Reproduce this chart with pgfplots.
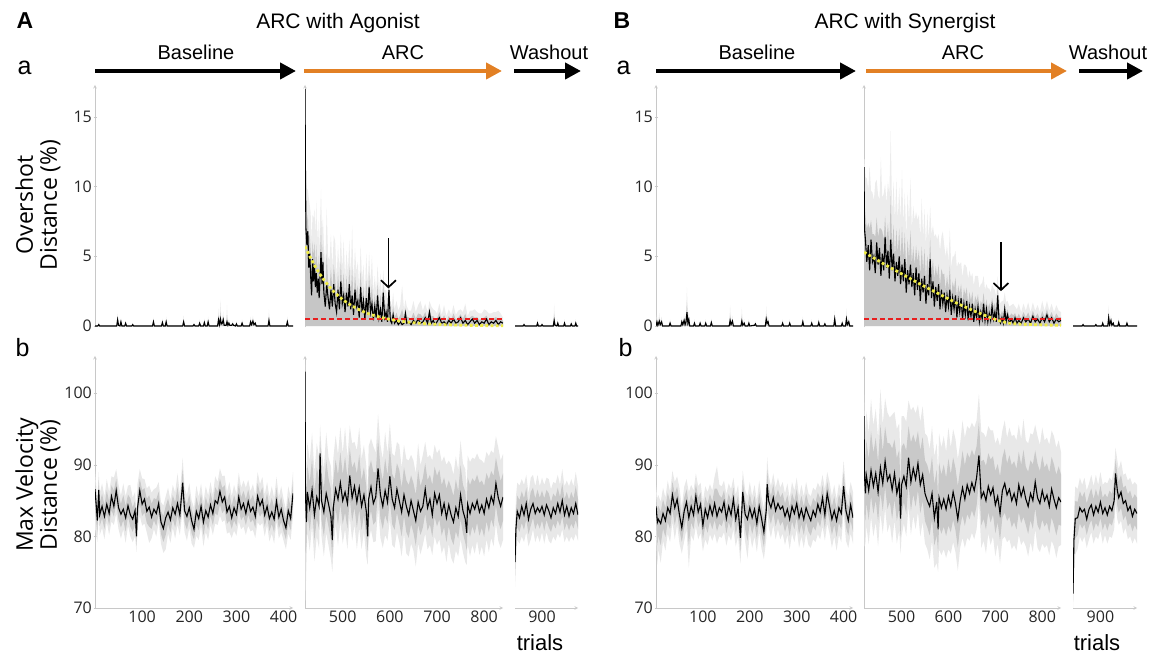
\documentclass[border=0pt]{standalone}
\usepackage{pgfplots}
\pgfplotsset{compat=1.18}
\usepackage{pgfplotstable}
\usepgfplotslibrary{fillbetween}
\usetikzlibrary{arrows.meta}
\usepackage{fontspec}
\setmainfont{Liberation Sans}
\newfontfamily\tickfamily{Open Sans}
\definecolor{arcorange}{RGB}{226,128,36}
\definecolor{fityellow}{RGB}{240,236,70}
\definecolor{fitred}{RGB}{232,30,30}
\definecolor{axgray}{RGB}{200,200,200}

% ---------- Row a (overshot): x m s ----------
\pgfplotstableread[row sep=\\]{x m s\\
0 0 0.05\\ 6 0 0.05\\ 8 0.1 0.2\\ 10 0 0.05\\ 46 0 0.05\\ 48 0.45 0.5\\ 50 0.05 0.1\\ 53 0 0.05\\ 55 0.3 0.3\\ 57 0 0.05\\
63 0 0.05\\ 65 0.2 0.2\\ 67 0 0.05\\ 78 0 0.05\\ 80 0.1 0.1\\ 82 0 0.05\\ 122 0 0.05\\ 124 0.3 0.3\\ 126 0 0.05\\
141 0 0.05\\ 143 0.25 0.3\\ 145 0 0.05\\ 149 0 0.05\\ 151 0.3 0.4\\ 153 0 0.05\\ 186 0 0.05\\ 188 0.3 0.5\\ 190 0 0.05\\
208 0 0.05\\ 210 0.1 0.1\\ 212 0 0.05\\ 220 0 0.05\\ 222 0.2 0.3\\ 224 0 0.05\\ 230 0 0.05\\ 232 0.25 0.3\\ 234 0 0.05\\
238 0 0.05\\ 240 0.3 0.4\\ 242 0 0.05\\ 260 0 0.05\\ 262 0.45 0.8\\ 264 0.1 0.2\\ 266 0.5 1.4\\ 268 0.15 0.3\\ 270 0.2 0.4\\
272 0.45 0.6\\ 274 0.05 0.1\\ 278 0.05 0.1\\ 280 0.3 1.2\\ 282 0.05 0.1\\ 284 0.2 0.3\\ 286 0.05 0.1\\ 290 0.05 0.1\\
292 0.15 0.2\\ 294 0.05 0.1\\ 298 0 0.05\\ 300 0.15 0.2\\ 302 0 0.05\\ 310 0 0.05\\ 312 0.2 0.3\\ 314 0 0.05\\ 328 0 0.05\\
330 0.3 0.4\\ 332 0.1 0.1\\ 335 0.35 0.4\\ 337 0.1 0.1\\ 340 0.2 0.2\\ 342 0 0.05\\ 367 0 0.05\\ 369 0.4 0.8\\ 371 0 0.05\\
406 0 0.05\\ 408 0.3 0.4\\ 410 0 0.05\\ 420 0 0.05\\
}\AAbase

\pgfplotstableread[row sep=\\]{x m s\\
420 17.0 0.3\\ 421 10.8 2\\ 422 7.0 3.5\\ 424 5.8 4.0\\ 426 6.8 3.0\\ 428 4.2 5.0\\ 430 5.2 3.5\\ 432 3.6 4.5\\
434 2.2 4.0\\ 436 4.8 3.2\\ 438 3.2 4.5\\ 440 4.4 4.0\\ 442 2.8 3.8\\ 444 3.8 5.2\\ 446 2.4 3.6\\ 448 3.4 4.2\\
450 2.0 3.5\\ 452 3.6 4.0\\ 454 5.3 4.5\\ 456 3.0 3.8\\ 458 4.6 3.2\\ 460 2.4 3.5\\ 463 1.4 3.0\\ 466 3.0 5.5\\
469 2.0 3.0\\ 472 1.2 3.5\\ 475 2.6 4.0\\ 478 1.4 2.8\\ 481 3.0 3.5\\ 484 1.6 4.5\\ 487 1.0 2.5\\ 490 2.6 3.2\\
493 1.2 2.8\\ 496 3.2 3.5\\ 499 1.6 2.5\\ 502 2.2 4.0\\ 505 1.0 2.5\\ 508 2.4 3.0\\ 511 1.4 2.5\\ 514 3.0 3.2\\
517 1.2 2.4\\ 520 2.2 5.0\\ 523 0.8 2.4\\ 526 2.6 3.0\\ 529 1.4 2.5\\ 532 1.8 2.8\\ 535 0.6 2.2\\ 538 2.8 3.0\\
541 1.0 2.4\\ 544 1.8 2.6\\ 547 0.5 2.0\\ 550 2.0 3.2\\ 553 0.8 2.2\\ 556 2.8 2.5\\ 559 1.0 2.0\\ 562 1.6 3.5\\
565 0.4 2.0\\ 568 1.4 2.2\\ 571 0.6 1.8\\ 574 2.2 2.2\\ 577 0.6 1.8\\ 580 1.2 2.6\\ 583 0.3 1.8\\ 586 2.4 1.6\\
589 0.6 2.0\\ 592 1.0 1.6\\ 595 0.3 1.4\\ 598 2.6 1.2\\ 601 0.4 1.4\\ 604 0.2 1.2\\ 607 0.8 1.6\\ 610 0.2 1.0\\
614 0.4 1.4\\ 618 0.1 1.0\\ 622 0.3 1.2\\ 626 0.1 2.8\\ 630 0.2 1.0\\ 633 0.9 1.0\\ 636 0.2 1.2\\ 640 0.3 0.8\\
645 0.1 1.0\\ 650 0.4 1.4\\ 655 0.2 0.8\\ 660 0.5 1.0\\ 665 0.2 1.6\\ 670 0.3 0.8\\ 675 0.6 1.0\\ 680 0.2 0.8\\
684 1.0 0.8\\ 688 0.2 1.2\\ 692 0.4 0.8\\ 696 0.1 1.0\\ 700 0.3 0.6\\ 705 0.6 1.0\\ 710 0.2 0.6\\ 715 0.3 1.2\\
720 0.1 0.6\\ 725 0.4 0.8\\ 730 0.2 0.6\\ 735 0.5 1.0\\ 740 0.2 0.6\\ 745 0.3 0.8\\ 750 0.6 0.6\\ 755 0.2 0.8\\
760 0.4 1.2\\ 765 0.1 0.6\\ 770 0.3 0.8\\ 775 0.5 0.6\\ 780 0.2 1.0\\ 785 0.4 0.6\\ 790 0.1 0.8\\ 795 0.3 0.6\\
800 0.2 1.0\\ 805 0.5 0.6\\ 810 0.1 0.8\\ 815 0.3 0.6\\ 820 0.2 0.8\\ 825 0.4 0.6\\ 830 0.1 1.0\\ 835 0.3 0.6\\ 840 0.2 0.4\\
}\AAarc

\pgfplotstableread[row sep=\\]{x m s\\
840 0 0.05\\ 858 0 0.05\\ 860 0.1 0.1\\ 862 0 0.05\\ 888 0 0.05\\ 890 0.2 0.3\\ 892 0 0.05\\ 898 0 0.05\\ 900 0.1 0.1\\
902 0 0.05\\ 925 0 0.05\\ 927 0.4 1.2\\ 929 0.05 0.1\\ 933 0 0.05\\ 935 0.2 0.3\\ 937 0 0.05\\ 948 0 0.05\\ 950 0.2 0.3\\
952 0 0.05\\ 963 0 0.05\\ 965 0.15 0.2\\ 967 0 0.05\\ 973 0 0.05\\ 975 0.2 0.3\\ 977 0 0.05\\ 980 0 0.05\\
}\AAwash

\pgfplotstableread[row sep=\\]{x m s\\
0 0 0.05\\ 2 0.3 0.5\\ 4 0.05 0.1\\ 7 0.35 0.6\\ 9 0.1 0.2\\ 12 0.3 0.4\\ 14 0 0.05\\ 28 0 0.05\\ 30 0.2 0.3\\ 32 0 0.05\\
53 0 0.05\\ 55 0.3 0.4\\ 57 0.1 0.1\\ 60 0.4 0.5\\ 62 0.1 0.2\\ 64 0.3 0.6\\ 66 1.0 1.8\\ 68 0.2 0.3\\ 70 0.45 0.6\\ 72 0 0.05\\
80 0 0.05\\ 82 0.2 0.3\\ 84 0 0.05\\ 92 0 0.05\\ 94 0.2 0.2\\ 96 0 0.05\\ 104 0 0.05\\ 106 0.2 0.3\\ 108 0 0.05\\
116 0 0.05\\ 118 0.25 0.3\\ 120 0 0.05\\ 156 0 0.05\\ 158 0.4 1.1\\ 160 0.1 0.1\\ 163 0.35 0.4\\ 165 0 0.05\\
181 0 0.05\\ 183 0.35 1.0\\ 185 0.05 0.1\\ 188 0.2 0.3\\ 190 0 0.05\\ 196 0 0.05\\ 198 0.2 0.3\\ 200 0 0.05\\
210 0.05 0.1\\ 212 0.15 0.2\\ 214 0 0.05\\ 233 0 0.05\\ 235 0.5 0.9\\ 237 0.2 0.3\\ 239 0.3 0.4\\ 241 0 0.05\\
268 0 0.05\\ 270 0.2 0.3\\ 272 0 0.05\\ 283 0 0.05\\ 285 0.2 0.3\\ 287 0 0.05\\ 311 0 0.05\\ 313 0.3 0.4\\ 315 0 0.05\\
330 0 0.05\\ 332 0.2 0.3\\ 334 0 0.05\\ 345 0 0.05\\ 347 0.25 0.3\\ 349 0 0.05\\ 358 0 0.05\\ 360 0.15 0.2\\ 362 0 0.05\\
379 0 0.05\\ 381 0.5 0.6\\ 383 0 0.05\\ 395 0 0.05\\ 397 0.2 0.2\\ 399 0 0.05\\ 404 0 0.05\\ 406 0.5 0.8\\ 408 0.1 0.1\\
411 0.3 0.3\\ 413 0 0.05\\ 420 0 0.05\\
}\BAbase

\pgfplotstableread[row sep=\\]{x m s\\
420 11.4 0.5\\ 421 7.0 5.0\\ 423 6.2 4.5\\ 426 4.6 6.0\\ 429 5.8 4.0\\ 432 4.0 7.5\\ 435 6.2 3.5\\ 438 4.6 5.0\\
441 5.0 4.0\\ 444 3.8 6.5\\ 447 6.0 4.5\\ 450 4.4 5.0\\ 453 5.6 3.5\\ 456 3.6 8.5\\ 459 5.2 4.0\\ 462 4.0 5.5\\
465 6.4 3.8\\ 468 4.2 4.6\\ 471 5.4 5.0\\ 474 3.4 6.0\\ 477 6.2 7.8\\ 480 4.0 4.0\\ 483 5.2 5.2\\ 486 3.2 4.4\\
489 4.6 6.0\\ 492 3.6 4.0\\ 495 5.0 5.0\\ 498 3.0 4.6\\ 501 4.4 6.8\\ 504 3.2 4.2\\ 507 4.8 4.8\\ 510 2.4 4.0\\
513 4.0 5.6\\ 516 3.0 4.4\\ 519 4.4 6.2\\ 522 2.8 4.2\\ 525 3.8 4.8\\ 528 2.2 5.4\\ 531 4.2 4.0\\ 534 2.6 5.0\\
537 3.8 4.2\\ 540 1.8 4.6\\ 543 3.4 5.8\\ 546 2.4 4.0\\ 549 3.6 4.8\\ 552 1.6 4.2\\ 555 3.0 5.2\\ 558 2.2 4.0\\
561 4.8 3.8\\ 564 2.0 4.6\\ 567 3.2 4.0\\ 570 1.4 5.0\\ 573 2.8 3.8\\ 576 1.8 4.4\\ 579 3.0 3.6\\ 582 1.2 4.2\\
585 2.6 3.8\\ 588 1.6 5.2\\ 591 2.4 3.4\\ 594 1.0 4.0\\ 597 2.2 3.6\\ 600 1.4 3.2\\ 603 2.6 4.4\\ 606 0.8 3.4\\
609 2.0 3.0\\ 612 1.2 3.8\\ 615 2.2 3.2\\ 618 0.6 3.6\\ 621 1.8 2.8\\ 624 1.0 3.4\\ 627 2.0 2.6\\ 630 0.5 3.0\\
633 1.6 2.8\\ 636 0.8 3.6\\ 639 1.8 2.4\\ 642 0.4 3.0\\ 645 1.4 2.6\\ 648 0.7 2.8\\ 651 1.6 2.2\\ 654 0.3 2.6\\
657 1.2 2.4\\ 660 0.6 3.0\\ 663 1.4 2.2\\ 666 0.3 2.4\\ 669 1.0 2.0\\ 672 0.5 2.6\\ 675 1.6 2.0\\ 678 0.4 2.2\\
681 1.2 1.8\\ 684 0.3 2.4\\ 687 0.9 1.8\\ 690 0.4 2.0\\ 693 1.4 1.6\\ 696 0.5 2.2\\ 699 1.0 1.6\\ 702 0.3 1.8\\
705 2.2 1.4\\ 708 0.4 1.6\\ 711 0.2 1.4\\ 714 0.6 1.2\\ 717 0.2 1.6\\ 720 1.2 1.2\\ 723 0.3 1.4\\ 726 0.8 1.0\\
730 0.2 1.2\\ 734 0.5 1.0\\ 738 0.2 1.4\\ 742 0.6 0.8\\ 746 0.2 1.0\\ 750 0.4 1.2\\ 755 0.2 0.8\\ 760 0.6 1.0\\
765 0.3 0.8\\ 770 0.5 1.2\\ 775 0.2 0.8\\ 780 0.7 1.0\\ 785 0.3 0.8\\ 790 0.5 1.0\\ 795 0.2 0.8\\ 800 0.6 1.2\\
805 0.3 0.8\\ 810 0.8 1.0\\ 815 0.3 0.8\\ 820 0.6 1.0\\ 825 0.2 0.8\\ 830 0.5 1.0\\ 835 0.3 0.8\\ 840 0.4 0.6\\
}\BAarc

\pgfplotstableread[row sep=\\]{x m s\\
840 0 0.05\\ 860 0 0.05\\ 862 0.1 0.1\\ 864 0 0.05\\ 888 0 0.05\\ 890 0.1 0.1\\ 892 0 0.05\\ 903 0 0.05\\ 905 0.2 0.2\\
907 0 0.05\\ 916 0 0.05\\ 918 0.6 0.9\\ 920 0.1 0.1\\ 923 0.4 0.4\\ 925 0.05 0.1\\ 928 0.2 0.2\\ 930 0 0.05\\
938 0 0.05\\ 940 0.25 0.3\\ 942 0 0.05\\ 956 0 0.05\\ 958 0.2 0.2\\ 960 0 0.05\\ 980 0 0.05\\
}\BAwash

% ---------- Row b (max velocity): x m u d ----------
\pgfplotstableread[row sep=\\]{x m u d\\
0 86.6 2.5 5.5\\ 5 82.2 3.0 3.0\\ 8 86.5 2.5 3.5\\ 10 83.0 3.0 2.8\\ 15 84.2 3.2 3.0\\ 20 82.8 2.8 3.2\\ 25 84.5 3.5 2.5\\
30 83.2 3.0 3.0\\ 35 85.6 2.8 3.5\\ 40 84.2 4.0 2.6\\ 45 86.4 3.0 3.2\\ 50 84.0 3.2 3.0\\ 55 83.1 2.6 3.4\\ 60 83.8 3.6 2.8\\
65 82.6 3.0 3.5\\ 70 84.3 2.8 2.8\\ 75 83.0 4.2 3.0\\ 80 82.4 3.0 3.2\\ 85 83.6 2.6 3.6\\ 88 80.0 3.0 2.2\\ 90 83.9 3.4 3.0\\
95 86.4 3.0 3.5\\ 100 84.5 3.6 3.0\\ 105 85.2 2.8 3.4\\ 110 83.5 3.2 3.0\\ 115 84.1 3.0 5.0\\ 120 82.7 3.4 3.0\\
125 83.8 2.8 2.8\\ 130 83.2 3.6 3.2\\ 135 84.6 3.0 2.6\\ 140 82.0 2.8 3.0\\ 145 81.1 3.2 3.4\\ 150 82.6 3.0 4.4\\
155 83.4 3.4 3.0\\ 160 82.3 2.8 3.2\\ 165 84.0 3.2 2.8\\ 170 83.1 3.0 3.4\\ 175 84.6 4.2 3.0\\ 180 83.0 3.0 2.8\\
186 87.5 3.5 3.6\\ 190 83.6 3.2 3.0\\ 195 82.8 3.0 3.4\\ 200 84.0 3.4 2.8\\ 205 82.2 2.8 3.2\\ 210 81.0 3.0 2.6\\
215 83.5 3.6 3.4\\ 220 82.5 3.0 3.0\\ 225 84.2 3.2 2.8\\ 230 82.0 2.8 3.4\\ 235 83.6 3.4 3.0\\ 240 82.7 3.0 3.2\\
245 84.4 3.2 2.8\\ 250 83.2 2.6 3.0\\ 255 85.0 3.4 3.2\\ 260 84.6 3.0 3.0\\ 265 86.3 3.2 3.4\\ 270 84.8 3.6 2.8\\
275 85.5 3.0 3.2\\ 280 83.4 2.8 3.0\\ 285 84.2 3.4 3.6\\ 290 82.6 3.0 2.8\\ 295 84.0 3.2 3.2\\ 300 83.1 2.8 3.0\\
305 85.5 3.4 3.4\\ 310 83.8 3.0 2.8\\ 315 84.6 3.2 3.2\\ 320 83.2 3.6 3.0\\ 325 84.9 3.0 3.4\\ 330 83.5 2.8 2.8\\
335 84.1 3.2 3.2\\ 340 82.8 3.0 3.0\\ 345 85.6 3.4 3.6\\ 350 84.3 3.0 2.8\\ 355 85.1 3.2 3.2\\ 360 83.0 2.8 3.0\\
365 84.2 3.4 2.6\\ 370 82.5 3.0 3.2\\ 375 83.4 3.6 3.0\\ 380 82.4 3.0 3.4\\ 385 84.9 3.4 2.8\\ 390 82.7 2.8 3.0\\
395 83.8 3.2 3.2\\ 400 82.2 3.0 2.8\\ 405 81.2 2.6 3.0\\ 410 83.6 3.4 3.2\\ 415 82.5 3.0 3.0\\ 420 86.0 3.0 3.2\\
}\ABbase

\pgfplotstableread[row sep=\\]{x m u d\\
420 103.0 1.0 3.0\\ 421 86.0 6.0 15.0\\ 423 82.0 7.0 6.0\\ 425 86.2 7.0 5.5\\ 430 84.0 6.5 6.0\\ 435 86.5 8.0 5.0\\
440 83.0 6.0 6.5\\ 445 85.5 7.5 5.5\\ 450 84.2 6.8 6.0\\ 452 91.6 4.0 6.0\\ 455 85.0 7.2 5.0\\ 460 83.4 6.0 6.2\\
465 86.0 8.5 5.5\\ 470 84.5 6.5 5.8\\ 475 82.8 7.0 6.0\\ 478 79.5 7.0 4.5\\ 480 84.0 6.8 6.2\\ 485 86.6 7.5 5.0\\
490 85.2 6.2 6.5\\ 495 87.5 7.8 5.5\\ 500 85.0 6.6 6.0\\ 505 86.2 9.0 5.2\\ 510 84.6 6.4 6.4\\ 515 88.5 7.0 5.8\\
520 85.4 7.6 6.0\\ 525 87.0 6.2 5.4\\ 530 84.8 7.2 6.6\\ 535 86.8 8.4 5.6\\ 540 84.2 6.6 6.0\\ 545 85.8 7.0 5.2\\
550 83.5 6.4 6.4\\ 553 80.0 6.0 4.0\\ 555 85.2 7.4 5.8\\ 560 86.9 6.8 6.0\\ 565 84.6 8.0 5.4\\ 570 85.5 6.2 6.2\\
575 89.5 7.6 5.6\\ 580 85.8 7.0 6.0\\ 585 84.2 6.6 5.8\\ 590 86.4 8.2 6.2\\ 595 84.8 6.8 5.4\\ 600 88.4 7.4 6.0\\
605 85.2 6.4 6.4\\ 610 84.0 7.2 5.6\\ 615 86.6 6.6 6.0\\ 620 85.0 7.8 5.8\\ 625 83.4 6.2 6.2\\ 630 85.8 7.0 5.4\\
635 84.2 6.6 6.6\\ 640 83.0 7.6 5.8\\ 645 85.0 6.4 6.0\\ 650 83.6 7.0 5.6\\ 655 82.2 6.6 6.4\\ 660 84.8 8.2 5.8\\
665 83.5 6.4 6.0\\ 670 84.2 7.2 5.4\\ 675 86.6 6.6 6.2\\ 680 84.0 7.0 5.8\\ 685 85.2 6.2 6.4\\ 690 83.0 7.6 5.6\\
695 86.0 6.8 6.0\\ 700 84.6 7.0 5.8\\ 705 85.8 6.4 6.2\\ 710 83.2 7.2 5.6\\ 715 84.6 6.6 6.0\\ 720 82.6 7.4 6.2\\
725 84.4 6.2 5.4\\ 730 83.0 7.0 6.0\\ 735 82.0 6.6 5.8\\ 740 84.0 7.2 6.0\\ 745 82.8 6.4 5.6\\ 750 85.8 7.6 6.2\\
755 83.6 6.6 5.8\\ 760 82.4 7.0 6.0\\ 763 80.5 6.0 4.5\\ 765 84.5 6.8 5.6\\ 770 83.2 7.2 6.0\\ 775 84.6 6.4 5.8\\
780 83.8 7.0 6.2\\ 785 85.0 6.6 5.6\\ 790 83.4 7.4 6.0\\ 795 84.4 6.2 5.8\\ 800 83.2 7.0 6.0\\ 805 85.2 6.6 5.6\\
810 84.0 7.2 6.2\\ 815 85.6 6.4 5.8\\ 820 84.6 7.0 6.0\\ 825 87.4 6.6 5.6\\ 830 85.4 7.0 6.0\\ 835 84.2 6.4 5.8\\
840 85.5 6.0 6.0\\
}\ABarc

\pgfplotstableread[row sep=\\]{x m u d\\
840 76.4 3.0 3.5\\ 842 81.0 4.5 5.0\\ 845 83.5 4.0 4.0\\ 850 82.6 4.5 3.6\\ 855 84.2 3.8 4.2\\ 860 83.0 4.2 3.8\\
865 84.6 4.0 4.0\\ 870 82.4 3.6 3.8\\ 875 83.8 4.4 4.2\\ 880 84.6 4.0 3.6\\ 885 83.2 3.8 4.0\\ 890 84.0 4.6 3.8\\
895 83.4 3.6 4.2\\ 900 84.2 4.0 3.6\\ 905 83.0 4.2 4.0\\ 910 84.4 3.8 3.8\\ 915 83.6 4.4 4.2\\ 920 82.6 4.0 3.6\\
925 84.0 3.6 4.0\\ 930 83.2 4.2 3.8\\ 935 84.6 4.0 4.2\\ 940 83.4 3.8 3.6\\ 945 85.0 4.4 4.0\\ 950 83.0 4.0 3.8\\
955 84.2 3.6 4.2\\ 960 82.8 4.2 3.6\\ 965 84.0 4.0 4.0\\ 970 83.2 3.8 3.8\\ 975 84.6 4.4 4.2\\ 980 83.0 4.0 3.6\\
}\ABwash

\pgfplotstableread[row sep=\\]{x m u d\\
0 84.2 3.0 4.0\\ 3 82.0 3.2 6.0\\ 5 82.4 3.4 4.2\\ 10 81.8 3.0 5.5\\ 15 83.2 3.6 3.8\\ 20 82.2 3.2 4.2\\ 25 84.0 3.8 3.6\\
30 83.2 3.0 4.0\\ 35 85.8 3.4 3.8\\ 40 84.0 3.6 4.4\\ 45 85.2 3.2 3.6\\ 50 83.0 3.8 4.0\\ 55 81.2 3.0 3.6\\ 60 83.5 3.4 4.2\\
65 84.8 3.2 3.8\\ 70 82.6 3.6 7.0\\ 75 84.2 3.0 4.0\\ 80 83.0 3.4 3.6\\ 85 85.6 3.2 4.2\\ 90 83.4 3.6 3.8\\ 95 84.5 3.0 4.0\\
100 81.5 3.4 3.6\\ 105 83.8 3.2 4.2\\ 110 82.6 3.6 3.8\\ 115 84.3 3.0 4.0\\ 120 83.0 3.4 3.6\\ 125 84.6 3.8 4.2\\
130 82.8 7.0 3.8\\ 135 84.0 3.2 4.0\\ 140 83.4 3.6 3.6\\ 145 84.8 3.0 4.2\\ 150 82.5 3.4 3.8\\ 155 84.2 3.2 4.0\\
160 83.0 3.6 3.6\\ 165 85.2 3.0 4.2\\ 170 82.4 3.4 3.8\\ 175 84.0 3.2 4.0\\ 180 79.8 3.6 3.6\\ 185 86.2 3.0 4.2\\
190 83.1 3.4 3.8\\ 195 82.4 3.2 5.5\\ 200 84.0 3.6 3.6\\ 205 82.6 3.0 4.2\\ 210 83.8 3.4 3.8\\ 215 81.8 3.2 4.0\\
220 84.2 3.6 3.6\\ 225 82.5 3.0 4.2\\ 230 80.6 3.4 3.8\\ 235 83.6 3.2 4.0\\ 237 87.3 3.8 3.6\\ 240 85.0 3.6 3.6\\
245 84.0 3.0 4.2\\ 250 85.4 3.4 3.8\\ 255 83.6 3.2 4.0\\ 260 84.6 3.6 3.6\\ 265 83.8 3.0 4.2\\ 270 84.2 3.4 3.8\\
275 82.8 3.2 4.0\\ 280 83.8 3.6 3.6\\ 285 82.4 3.0 4.2\\ 290 84.2 3.4 3.8\\ 295 83.2 3.2 4.0\\ 300 84.6 3.6 3.6\\
305 82.6 3.0 4.2\\ 310 83.8 3.4 3.8\\ 315 82.4 3.2 4.0\\ 320 84.0 3.6 3.6\\ 325 83.0 3.0 4.2\\ 330 82.2 3.4 3.8\\
335 83.6 3.2 4.0\\ 340 82.8 3.6 3.6\\ 345 84.5 3.0 4.2\\ 350 83.4 3.4 3.8\\ 355 85.4 3.2 4.0\\ 360 83.0 3.6 3.6\\
365 86.0 3.0 4.2\\ 370 84.2 3.4 3.8\\ 375 82.4 3.2 4.0\\ 380 83.6 3.6 3.6\\ 385 82.2 3.0 4.2\\ 390 84.0 3.4 3.8\\
395 83.2 3.2 4.0\\ 400 87.0 3.6 3.6\\ 405 83.6 3.0 4.2\\ 410 82.2 3.4 3.8\\ 415 84.4 3.2 4.0\\ 420 82.6 3.6 3.6\\
}\BBbase

\pgfplotstableread[row sep=\\]{x m u d\\
420 96.8 3.0 8.0\\ 421 88.6 9.0 10.0\\ 423 86.0 8.0 7.0\\ 425 88.5 9.0 7.0\\ 430 86.4 8.0 7.5\\ 435 89.2 10.0 6.5\\
440 87.0 8.5 7.0\\ 445 88.8 9.0 6.8\\ 450 86.2 7.5 7.6\\ 455 89.6 11.0 6.4\\ 460 87.4 8.2 7.0\\ 465 90.5 8.8 6.6\\
470 87.8 9.5 7.2\\ 475 88.6 8.0 6.8\\ 480 86.5 10.5 7.4\\ 485 88.8 8.6 6.6\\ 490 86.0 9.0 7.0\\ 495 87.6 8.2 6.8\\
498 82.5 8.0 5.0\\ 500 87.2 9.6 7.2\\ 505 88.4 8.4 6.6\\ 510 87.0 9.0 7.0\\ 515 91.0 8.0 6.8\\ 520 87.6 10.0 7.4\\
525 89.5 8.6 6.6\\ 530 88.0 9.2 7.0\\ 535 90.2 8.2 6.8\\ 540 87.2 8.8 7.2\\ 545 88.6 9.6 6.6\\ 550 86.0 8.4 7.0\\
555 85.0 9.0 6.8\\ 560 84.2 8.0 7.4\\ 565 86.0 9.4 6.6\\ 570 82.6 8.6 7.0\\ 575 84.8 8.2 8.5\\ 578 81.0 8.0 6.0\\
580 85.4 9.0 7.2\\ 585 84.0 8.4 6.6\\ 590 85.2 8.8 7.0\\ 595 83.8 8.0 6.8\\ 600 85.6 9.6 7.4\\ 605 84.2 8.2 6.6\\
610 86.2 8.8 7.0\\ 615 84.6 9.0 6.8\\ 620 82.4 8.4 7.2\\ 625 85.0 8.0 6.6\\ 630 86.8 9.4 7.0\\ 635 85.2 8.6 6.8\\
640 87.2 8.2 7.4\\ 645 86.0 9.0 6.6\\ 650 87.5 8.4 7.0\\ 655 86.4 8.8 6.8\\ 660 88.2 8.0 7.2\\ 665 91.3 8.6 6.6\\
670 85.4 9.2 7.0\\ 675 86.2 8.2 6.8\\ 680 85.0 8.8 7.4\\ 685 87.0 8.4 6.6\\ 690 85.8 9.0 7.0\\ 695 86.8 8.0 6.8\\
700 84.4 8.6 7.2\\ 705 85.6 8.2 6.6\\ 710 83.2 9.4 7.0\\ 715 86.4 8.4 6.8\\ 720 87.4 8.8 7.4\\ 725 85.8 8.0 6.6\\
730 86.6 8.6 7.0\\ 735 85.0 9.0 6.8\\ 740 86.0 8.2 7.2\\ 745 84.6 8.8 6.6\\ 750 87.2 8.4 7.0\\ 755 85.6 8.0 6.8\\
760 86.8 9.6 7.4\\ 765 85.2 8.2 6.6\\ 770 84.2 8.8 7.0\\ 775 86.0 8.4 6.8\\ 780 85.0 9.2 7.2\\ 785 87.6 8.0 6.6\\
790 85.4 8.6 7.0\\ 795 84.6 8.2 6.8\\ 800 86.4 8.8 7.4\\ 805 85.0 8.4 6.6\\ 810 85.8 8.0 7.0\\ 815 84.2 8.6 6.8\\
820 86.6 8.2 7.2\\ 825 85.2 8.8 6.6\\ 830 84.0 8.4 7.0\\ 835 85.4 8.0 6.8\\ 840 84.8 7.0 6.0\\
}\BBarc

\pgfplotstableread[row sep=\\]{x m u d\\
840 72.0 2.0 2.0\\ 842 79.5 4.0 5.0\\ 845 82.5 4.5 5.0\\ 850 82.6 4.0 4.4\\ 855 84.0 4.2 4.0\\ 860 83.4 3.8 4.2\\
865 83.8 4.4 3.8\\ 870 82.4 4.0 4.0\\ 875 83.8 3.6 4.2\\ 880 84.4 4.2 3.8\\ 885 83.0 4.0 4.0\\ 890 84.2 4.4 4.2\\
895 83.4 3.8 3.8\\ 900 84.8 4.2 4.0\\ 905 83.2 4.0 4.2\\ 910 84.0 3.6 3.8\\ 915 83.0 4.4 4.0\\ 920 84.2 4.0 4.2\\
925 83.6 4.2 3.8\\ 930 85.0 4.6 4.0\\ 933 88.8 3.6 4.2\\ 937 86.4 4.2 4.0\\ 940 85.4 4.0 3.8\\ 945 86.2 4.4 4.0\\
950 84.6 4.0 4.2\\ 955 85.0 3.8 3.8\\ 960 83.6 4.2 4.0\\ 965 84.2 4.0 4.2\\ 970 82.8 4.4 3.8\\ 975 83.8 3.8 4.0\\
980 83.2 4.0 4.2\\
}\BBwash

\newcommand{\banda}[1]{%
\addplot[fill=gray!15, draw=none] table[x=x, y expr=\thisrow{m}+\thisrow{s}] {#1} \closedcycle;
\addplot[fill=gray!45, draw=none] table[x=x, y expr=\thisrow{m}+0.4*\thisrow{s}] {#1} \closedcycle;
\addplot[black, line width=1.1pt] table[x=x, y=m] {#1};}

\newcommand{\bandb}[1]{%
\addplot[name path=U1, draw=none] table[x=x, y expr=\thisrow{m}+\thisrow{u}] {#1};
\addplot[name path=L1, draw=none] table[x=x, y expr=\thisrow{m}-\thisrow{d}] {#1};
\addplot[fill=gray!18, draw=none] fill between[of=U1 and L1];
\addplot[name path=U2, draw=none] table[x=x, y expr=\thisrow{m}+0.55*\thisrow{u}] {#1};
\addplot[name path=L2, draw=none] table[x=x, y expr=\thisrow{m}-0.55*\thisrow{d}] {#1};
\addplot[fill=gray!42, draw=none] fill between[of=U2 and L2];
\addplot[black, line width=1.1pt] table[x=x, y=m] {#1};}

\pgfplotsset{
  base/.style={scale only axis, axis line style={-, axgray, line width=0.6pt},
    tick align=outside, major tick length=3pt, tick style={axgray, line width=0.6pt},
    ticklabel style={font=\tickfamily\fontsize{16}{16}\selectfont, text=black!85, inner sep=1.5pt},
    /pgf/number format/assume math mode=true, xtick style={draw=none}},
  rowa/.style={base, height=242.4pt, ymin=-0.1, ymax=17.3, axis x line=none},
  rowb/.style={base, height=252pt, ymin=70, ymax=105.2, axis x line=bottom},
  seg1/.style={width=198pt, xmin=0, xmax=420},
  seg2/.style={width=198pt, xmin=420, xmax=840},
  seg3/.style={width=63pt, xmin=840, xmax=980},
}

\tikzset{harrow/.style={line width=4.5pt, -{Triangle[length=16pt,width=16pt]}},
  hdr/.style={font=\fontsize{20}{20}\selectfont, anchor=base},
  plotarrow/.style={line width=1.7pt, -{Straight Barb[length=7pt,width=15pt]}}}

\begin{document}
\begin{tikzpicture}

% ===== Panel A =====
\begin{axis}[rowa, seg1, at={(95pt,333.6pt)}, anchor=south west, axis y line=left, ytick={0,5,10,15}]
\banda{\AAbase}
\end{axis}
\begin{axis}[rowa, seg2, at={(305pt,333.6pt)}, anchor=south west, axis y line=left, ytick=\empty]
\banda{\AAarc}
\addplot[color=fitred, line width=2pt, dash pattern=on 5pt off 3pt] coordinates {(420,0.47) (840,0.47)};
\addplot[color=fityellow, line width=2.8pt, dash pattern=on 2.8pt off 2.4pt] coordinates {
(420,5.70) (430,5.0) (441,4.31) (451,3.75) (461,3.27) (471,2.85) (481,2.47) (491,2.15) (501,1.87) (511,1.63)
(521,1.42) (531,1.23) (541,1.07) (551,0.93) (561,0.81) (571,0.71) (581,0.62) (591,0.54) (601,0.47) (621,0.35)
(641,0.27) (661,0.20) (681,0.15) (701,0.12) (721,0.09) (741,0.07) (761,0.05) (781,0.04) (801,0.03) (821,0.02) (840,0.02)};
\draw[plotarrow] (axis cs:597,6.3) -- (axis cs:597,2.7);
\end{axis}
\begin{axis}[rowa, seg3, at={(515pt,333.6pt)}, anchor=south west, axis y line=none]
\banda{\AAwash}
\end{axis}

\begin{axis}[rowb, seg1, at={(95pt,53pt)}, anchor=south west, axis y line=left, ytick={70,80,90,100}, xtick={100,200,300,400}]
\bandb{\ABbase}
\end{axis}
\begin{axis}[rowb, seg2, at={(305pt,53pt)}, anchor=south west, axis y line=left, ytick=\empty, xtick={500,600,700,800}]
\bandb{\ABarc}
\end{axis}
\begin{axis}[rowb, seg3, at={(515pt,53pt)}, anchor=south west, axis y line=none, xtick={900}]
\bandb{\ABwash}
\end{axis}

% ===== Panel B =====
\begin{axis}[rowa, seg1, width=197pt, at={(656pt,333.6pt)}, anchor=south west, axis y line=left, ytick={0,5,10,15}]
\banda{\BAbase}
\end{axis}
\begin{axis}[rowa, seg2, width=197pt, at={(864pt,333.6pt)}, anchor=south west, axis y line=left, ytick=\empty]
\banda{\BAarc}
\addplot[color=fitred, line width=2pt, dash pattern=on 5pt off 3pt] coordinates {(420,0.47) (840,0.47)};
\addplot[color=fityellow, line width=2.8pt, dash pattern=on 2.8pt off 2.4pt] coordinates {
(420,5.3) (440,4.9) (460,4.5) (480,4.12) (500,3.75) (520,3.38) (540,3.0) (560,2.65) (580,2.3) (600,1.95)
(620,1.6) (640,1.3) (660,1.0) (675,0.8) (690,0.6) (700,0.47) (710,0.35) (720,0.27) (730,0.2) (745,0.15)
(760,0.12) (780,0.1) (800,0.08) (820,0.06) (840,0.05)};
\draw[plotarrow] (axis cs:712,6.0) -- (axis cs:712,2.5);
\end{axis}
\begin{axis}[rowa, seg3, width=64pt, at={(1073pt,333.6pt)}, anchor=south west, axis y line=none]
\banda{\BAwash}
\end{axis}

\begin{axis}[rowb, seg1, width=197pt, at={(656pt,53pt)}, anchor=south west, axis y line=left, ytick={70,80,90,100}, xtick={100,200,300,400}]
\bandb{\BBbase}
\end{axis}
\begin{axis}[rowb, seg2, width=197pt, at={(864pt,53pt)}, anchor=south west, axis y line=left, ytick=\empty, xtick={500,600,700,800}]
\bandb{\BBarc}
\end{axis}
\begin{axis}[rowb, seg3, width=64pt, at={(1073pt,53pt)}, anchor=south west, axis y line=none, xtick={900}]
\bandb{\BBwash}
\end{axis}

% ===== Annotations =====
\node[font=\bfseries\fontsize{23}{23}\selectfont, anchor=base west] at (13pt,632pt) {A};
\node[font=\bfseries\fontsize{23}{23}\selectfont, anchor=base west] at (610pt,632pt) {B};
\node[font=\fontsize{21}{21}\selectfont, anchor=base] at (338pt,632pt) {ARC with Agonist};
\node[font=\fontsize{21}{21}\selectfont, anchor=base] at (905pt,632pt) {ARC with Synergist};
\node[font=\fontsize{25}{25}\selectfont, anchor=base west] at (14pt,586pt) {a};
\node[font=\fontsize{25}{25}\selectfont, anchor=base west] at (613pt,586pt) {a};
\node[font=\fontsize{25}{25}\selectfont, anchor=base west] at (12pt,304pt) {b};
\node[font=\fontsize{25}{25}\selectfont, anchor=base west] at (615pt,304pt) {b};

\node[hdr] at (196pt,601pt) {Baseline};
\node[hdr] at (403pt,601pt) {ARC};
\node[hdr] at (549pt,601pt) {Washout};
\node[hdr] at (757pt,601pt) {Baseline};
\node[hdr] at (963pt,601pt) {ARC};
\node[hdr] at (1108pt,601pt) {Washout};

\draw[harrow] (95pt,590pt) -- (296pt,590pt);
\draw[harrow, arcorange] (304pt,590pt) -- (502pt,590pt);
\draw[harrow] (514pt,590pt) -- (581pt,590pt);
\draw[harrow] (656pt,590pt) -- (856pt,590pt);
\draw[harrow, arcorange] (866pt,590pt) -- (1067pt,590pt);
\draw[harrow] (1079pt,590pt) -- (1143pt,590pt);

\node[rotate=90, align=center, font=\tickfamily\fontsize{23}{24}\selectfont] at (38pt,456pt) {Overshot\\Distance (\%)};
\node[rotate=90, align=center, font=\tickfamily\fontsize{23}{24}\selectfont] at (38pt,176pt) {Max Velocity\\Distance (\%)};
\node[font=\fontsize{22}{22}\selectfont, anchor=base] at (540pt,11pt) {trials};
\node[font=\fontsize{22}{22}\selectfont, anchor=base] at (1097pt,11pt) {trials};

\path (0pt,0pt) rectangle (1153pt,661pt);
\end{tikzpicture}
\end{document}
